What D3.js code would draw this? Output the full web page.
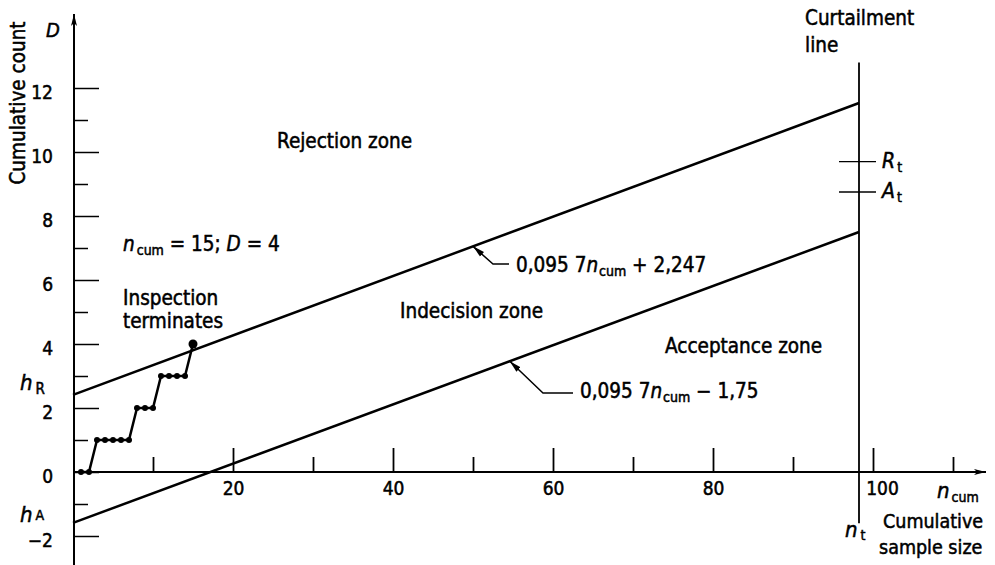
<!DOCTYPE html>
<html><head><meta charset="utf-8">
<script src="https://cdn.jsdelivr.net/npm/d3@7"></script>
<style>
body{margin:0;background:#fff;}
svg text{font-family:"DejaVu Sans Condensed","DejaVu Sans",sans-serif;fill:#000;stroke:#000;stroke-width:0.5px;}
</style></head>
<body><svg id="c" width="995" height="565"></svg>
<script>
// ---- data ----
const nCum = [1,2,3,4,5,6,7,8,9,10,11,12,13,14,15];
const defectCount = [0,0,1,1,1,1,1,2,2,2,3,3,3,3,4];
const lineN = [0, 98.25];
const rejectionLineD = [2.41, 11.53];   // 0,095 7 n_cum + 2,247
const acceptanceLineD = [-1.59, 7.5];   // 0,095 7 n_cum - 1,75
const curtailmentN = 98.25;
const curtailmentRange = [-1.6, 12.8];
const Rt = 9.7, At = 8.75;
const xMajorTicks = [20,40,60,80,100];
const xMinorTicks = [10,30,50,70,90,110];
const yMajorTicks = [-2,0,2,4,6,8,10,12];
const yMinorTicks = [-1,1,3,5,7,9,11];

const svg = d3.select("#c");
const x = d3.scaleLinear().domain([0,110]).range([73,953]);
const y = d3.scaleLinear().domain([0,12]).range([472,88]);
const X0 = x(0), Y0 = y(0);
const FS = 20.5;

// arrow markers
const defs = svg.append("defs");
defs.append("marker").attr("id","ah").attr("viewBox","0 0 12 8").attr("refX",12).attr("refY",4)
  .attr("markerWidth",12).attr("markerHeight",8).attr("markerUnits","userSpaceOnUse").attr("orient","auto")
  .append("path").attr("d","M0,1L12,4L0,7L3,4Z").attr("fill","#000");
defs.append("marker").attr("id","ls").attr("viewBox","0 0 12 8").attr("refX",0).attr("refY",4)
  .attr("markerWidth",12).attr("markerHeight",8).attr("markerUnits","userSpaceOnUse").attr("orient","auto")
  .append("path").attr("d","M0,4L12,1L12,7Z").attr("fill","#000");

// x axis
svg.append("line").attr("x1",X0).attr("x2",986).attr("y1",Y0).attr("y2",Y0)
  .attr("stroke","#000").attr("stroke-width",2).attr("marker-end","url(#ah)");
const xMaj = d3.axisBottom(x).tickValues(xMajorTicks).tickSize(-24).tickPadding(9).tickFormat(d3.format("d"));
const gx = svg.append("g").attr("transform",`translate(0,${Y0})`).call(xMaj);
const xMin = d3.axisBottom(x).tickValues(xMinorTicks).tickSize(-15).tickFormat("");
const gx2 = svg.append("g").attr("transform",`translate(0,${Y0})`).call(xMin);
[gx,gx2].forEach(g=>{g.select(".domain").remove();g.selectAll(".tick line").attr("stroke","#000").attr("stroke-width",1.8);});
gx.selectAll(".tick text").attr("font-size",19).attr("font-family",null).attr("dy","0.75em")
  .attr("dx",d=>d===100?9:0);

// y axis
svg.append("line").attr("x1",X0+1).attr("x2",X0+1).attr("y1",565).attr("y2",14)
  .attr("stroke","#000").attr("stroke-width",2).attr("marker-end","url(#ah)");
const yMaj = d3.axisLeft(y).tickValues(yMajorTicks).tickSize(-25).tickPadding(21);
const gy = svg.append("g").attr("transform",`translate(${X0+1},0)`).call(yMaj);
const yMin = d3.axisLeft(y).tickValues(yMinorTicks).tickSize(-14).tickFormat("");
const gy2 = svg.append("g").attr("transform",`translate(${X0+1},0)`).call(yMin);
[gy,gy2].forEach(g=>{g.select(".domain").remove();g.selectAll(".tick line").attr("stroke","#000").attr("stroke-width",1.5);});
gy.selectAll(".tick text").attr("font-size",19).attr("font-family",null).attr("dy","0.55em");

// decision lines
const line = d3.line().x(d=>x(d[0])).y(d=>y(d[1]));
svg.append("path").datum(lineN.map((n,i)=>[n,rejectionLineD[i]])).attr("d",line)
  .attr("fill","none").attr("stroke","#000").attr("stroke-width",2.5);
svg.append("path").datum(lineN.map((n,i)=>[n,acceptanceLineD[i]])).attr("d",line)
  .attr("fill","none").attr("stroke","#000").attr("stroke-width",2.5);

// curtailment line
svg.append("line").attr("x1",x(curtailmentN)).attr("x2",x(curtailmentN))
  .attr("y1",y(curtailmentRange[1])).attr("y2",y(curtailmentRange[0]))
  .attr("stroke","#000").attr("stroke-width",1.8);
[Rt,At].forEach(v=>{
  svg.append("line").attr("x1",x(curtailmentN)-20).attr("x2",x(curtailmentN)+17)
    .attr("y1",y(v)).attr("y2",y(v)).attr("stroke","#000").attr("stroke-width",1.3);
});

// step data
const pts = nCum.map((n,i)=>[n,defectCount[i]]);
svg.append("path").datum(pts).attr("d",line).attr("fill","none").attr("stroke","#000").attr("stroke-width",2.5);
svg.selectAll("circle.p").data(pts).enter().append("circle").attr("class","p")
  .attr("cx",d=>x(d[0])).attr("cy",d=>y(d[1])).attr("r",(d,i)=>i===pts.length-1?4.5:3).attr("fill","#000");

// leaders for formulas
function leader(n, D, pts2){
  const p0=[x(n),y(D)];
  svg.append("path").attr("d",d3.line()([p0,...pts2])).attr("fill","none").attr("stroke","#000")
    .attr("stroke-width",1.5).attr("marker-start","url(#ls)");
}
const interp=(arr,n)=>arr[0]+(arr[1]-arr[0])*(n-lineN[0])/(lineN[1]-lineN[0]);
leader(50, interp(rejectionLineD,50), [[493,264],[509,264]]);
leader(54.6, interp(acceptanceLineD,54.6), [[543,393],[573,393]]);

// texts: parts are strings or {t, i(italic), fs(font size), dy(shift), dx}
function txt(xp,yp,parts,size,anchor){
  const t=svg.append("text").attr("x",xp).attr("y",yp).attr("font-size",size||FS).attr("text-anchor",anchor||"start");
  parts.forEach(p=>{
    if(typeof p==="string"){t.append("tspan").text(p);}
    else{
      const s=t.append("tspan").text(p.t);
      if(p.i) s.attr("font-style","italic");
      if(p.fs) s.attr("font-size",p.fs);
      if(p.dy) s.attr("dy",p.dy);
      if(p.dx) s.attr("dx",p.dx);
    }
  });
  return t;
}
txt(46,37,[{t:"D",i:1}],20);
svg.append("text").attr("transform","translate(25,103) rotate(-90)").attr("text-anchor","middle")
  .attr("font-size",FS).text("Cumulative count");
txt(20,390,[{t:"h",i:1},{t:"R",fs:15,dy:4,dx:3}],22);
txt(20,522,[{t:"h",i:1},{t:"A",fs:14,dy:-2,dx:3}],22);
txt(277,148,["Rejection zone"]);
txt(123,251,[{t:"n",i:1},{t:"cum",fs:14,dy:4,dx:2},{t:" = 15; ",dy:-4},{t:"D",i:1},{t:" = 4"}]);
txt(123,305,["Inspection"]);
txt(123,328,["terminates"]);
txt(400,318,["Indecision zone"]);
txt(665,353,["Acceptance zone"]);
txt(516,272,["0,095 7",{t:"n",i:1},{t:"cum",fs:14,dy:4,dx:1},{t:" + 2,247",dy:-4}]);
txt(580,398,["0,095 7",{t:"n",i:1},{t:"cum",fs:14,dy:4,dx:1},{t:" − 1,75",dy:-4}]);
txt(805,25,["Curtailment"]);
txt(805,52,["line"]);
txt(882,168,[{t:"R",i:1},{t:"t",fs:14,dy:4,dx:2}],21);
txt(882,198,[{t:"A",i:1},{t:"t",fs:14,dy:4,dx:2}],21);
txt(937,498,[{t:"n",i:1},{t:"cum",fs:14,dy:4,dx:2}],22);
txt(845,537,[{t:"n",i:1},{t:"t",fs:14,dy:3,dx:3}],22);
txt(883,528,["Cumulative"],19.5);
txt(879,554,["sample size"],19.5);
</script></body></html>
